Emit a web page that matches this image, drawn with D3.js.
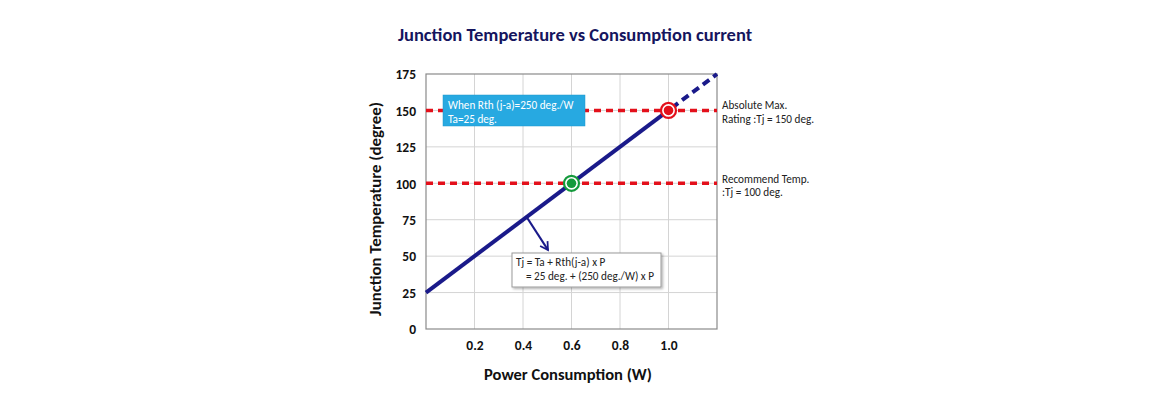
<!DOCTYPE html>
<html>
<head>
<meta charset="utf-8">
<script src="https://cdn.jsdelivr.net/npm/d3@7"></script>
<style>
  body { margin: 0; background: #fff; }
  svg { display: block; font-family: Carlito, Calibri, Lato, sans-serif; }
</style>
</head>
<body>
<script>
// chart values
var xTicks = [0.2, 0.4, 0.6, 0.8, 1.0];
var yTicks = [0, 25, 50, 75, 100, 125, 150, 175];
var linePower = [0, 1.0];          // solid part of Tj line
var lineTemp = [25, 150];
var extPower = [1.0, 1.2];         // dashed extension
var extTemp = [150, 175];
var limitTemps = [150, 100];       // red dotted limits
var markPower = [1.0, 0.6];
var markTemp = [150, 100];
var markColors = ['#e3101b', '#149a3c'];

var w = 1160, h = 399;
var svg = d3.select('body').append('svg').attr('width', w).attr('height', h);

var x = d3.scaleLinear().domain([0, 1.2]).range([426, 717]);
var y = d3.scaleLinear().domain([0, 175]).range([329, 74]);

// title
svg.append('text').attr('x', 575).attr('y', 41).attr('text-anchor', 'middle')
  .attr('font-size', 18.5).attr('font-weight', 'bold').attr('fill', '#15155e')
  .text('Junction Temperature vs Consumption current');

// grid
svg.append('g').selectAll('line').data(xTicks).enter().append('line')
  .attr('x1', function(d){return x(d)}).attr('x2', function(d){return x(d)})
  .attr('y1', y(0)).attr('y2', y(175))
  .attr('stroke', '#d4d4d4').attr('stroke-width', 1);
svg.append('g').selectAll('line').data(yTicks.slice(1, -1)).enter().append('line')
  .attr('x1', x(0)).attr('x2', x(1.2))
  .attr('y1', function(d){return y(d)}).attr('y2', function(d){return y(d)})
  .attr('stroke', '#d4d4d4').attr('stroke-width', 1);

// frame
svg.append('rect').attr('x', x(0)).attr('y', y(175))
  .attr('width', x(1.2) - x(0)).attr('height', y(0) - y(175))
  .attr('fill', 'none').attr('stroke', '#8a8a8a').attr('stroke-width', 1.2);

// axes (labels only)
var xAxis = svg.append('g').attr('transform', 'translate(0,' + (y(0) + 6) + ')')
  .call(d3.axisBottom(x).tickValues(xTicks).tickFormat(d3.format('.1f')).tickSize(0));
var yAxis = svg.append('g').attr('transform', 'translate(' + (x(0) - 7) + ',0)')
  .call(d3.axisLeft(y).tickValues(yTicks).tickSize(0));
[xAxis, yAxis].forEach(function(a){
  a.select('.domain').remove();
  a.selectAll('text').attr('font-size', 13.5).attr('font-weight', 'bold')
    .attr('fill', '#111').attr('font-family', 'Carlito, Calibri, Lato, sans-serif');
});
xAxis.selectAll('text').attr('dy', '0.9em');
yAxis.selectAll('text').attr('dy', '0.35em');

// axis titles
svg.append('text').attr('x', 568).attr('y', 380).attr('text-anchor', 'middle')
  .attr('font-size', 16.5).attr('font-weight', 'bold').attr('fill', '#111')
  .text('Power Consumption (W)');
svg.append('text').attr('transform', 'translate(381,209) rotate(-90)')
  .attr('text-anchor', 'middle')
  .attr('font-size', 16.8).attr('font-weight', 'bold').attr('fill', '#111')
  .text('Junction Temperature (degree)');

// red limit lines
svg.append('g').selectAll('line').data(limitTemps).enter().append('line')
  .attr('x1', x(0)).attr('x2', x(1.2))
  .attr('y1', function(d){return y(d)}).attr('y2', function(d){return y(d)})
  .attr('stroke', '#e3101b').attr('stroke-width', 3.5).attr('stroke-dasharray', '7,5');

// Tj line
var line = d3.line().x(function(d){return x(d[0])}).y(function(d){return y(d[1])});
svg.append('path').datum(d3.zip(linePower, lineTemp)).attr('d', line)
  .attr('fill', 'none').attr('stroke', '#1a1a8a').attr('stroke-width', 4);
svg.append('path').datum(d3.zip(extPower, extTemp)).attr('d', line)
  .attr('fill', 'none').attr('stroke', '#1a1a8a').attr('stroke-width', 4)
  .attr('stroke-dasharray', '8,5').attr('stroke-dashoffset', -4);

// markers
var marks = svg.append('g').selectAll('g').data(d3.range(markPower.length)).enter().append('g')
  .attr('transform', function(i){return 'translate(' + x(markPower[i]) + ',' + y(markTemp[i]) + ')'});
marks.append('circle').attr('r', 7.5).attr('fill', '#fff')
  .attr('stroke', function(i){return markColors[i]}).attr('stroke-width', 2.2);
marks.append('circle').attr('r', 4.8).attr('fill', function(i){return markColors[i]});

// blue info box
svg.append('rect').attr('x', 443).attr('y', 95).attr('width', 142).attr('height', 31)
  .attr('fill', '#27a9e1').attr('stroke', '#1d96cc').attr('stroke-width', 0.5);
svg.append('text').attr('x', 448).attr('y', 109).attr('font-size', 11.2).attr('fill', '#fff')
  .text('When Rth (j-a)=250 deg./W');
svg.append('text').attr('x', 448).attr('y', 122.5).attr('font-size', 11.2).attr('fill', '#fff')
  .text('Ta=25 deg.');

// right side notes
var notes = [
  ['Absolute Max.', 150, -1.4], ['Rating :Tj = 150 deg.', 150, 12.1],
  ['Recommend Temp.', 100, 0], [':Tj = 100 deg.', 100, 12.4]
];
svg.append('g').selectAll('text').data(notes).enter().append('text')
  .attr('x', 722).attr('y', function(d){return y(d[1]) + d[2]})
  .attr('font-size', 11.2).attr('fill', '#222')
  .text(function(d){return d[0]});

// formula callout arrow
var defs = svg.append('defs');
defs.append('marker').attr('id', 'arr').attr('viewBox', '0 0 10 10')
  .attr('refX', 8).attr('refY', 5).attr('markerWidth', 5).attr('markerHeight', 5)
  .attr('orient', 'auto')
  .append('path').attr('d', 'M1,1 L8,5 L1,9').attr('fill', 'none')
  .attr('stroke', '#1a1a8a').attr('stroke-width', 1.6);
var ax = 0.415;
svg.append('line').attr('x1', x(ax)).attr('y1', y(25 + 125 * ax))
  .attr('x2', 548).attr('y2', 250)
  .attr('stroke', '#1a1a8a').attr('stroke-width', 2.2).attr('marker-end', 'url(#arr)');

// formula box
var filt = defs.append('filter').attr('id', 'sh').attr('x', '-10%').attr('y', '-20%')
  .attr('width', '130%').attr('height', '160%');
filt.append('feDropShadow').attr('dx', 1.5).attr('dy', 1.5).attr('stdDeviation', 1.2)
  .attr('flood-color', '#000').attr('flood-opacity', 0.3);
svg.append('rect').attr('x', 512).attr('y', 253).attr('width', 149).attr('height', 34)
  .attr('fill', '#fff').attr('stroke', '#9a9a9a').attr('stroke-width', 1).attr('filter', 'url(#sh)');
svg.append('text').attr('x', 516).attr('y', 265.5).attr('font-size', 11.2).attr('fill', '#222')
  .text('Tj = Ta + Rth(j-a) x P');
svg.append('text').attr('x', 526).attr('y', 280).attr('font-size', 11.2).attr('fill', '#222')
  .text('= 25 deg. + (250 deg./W) x P');
</script>
</body>
</html>
